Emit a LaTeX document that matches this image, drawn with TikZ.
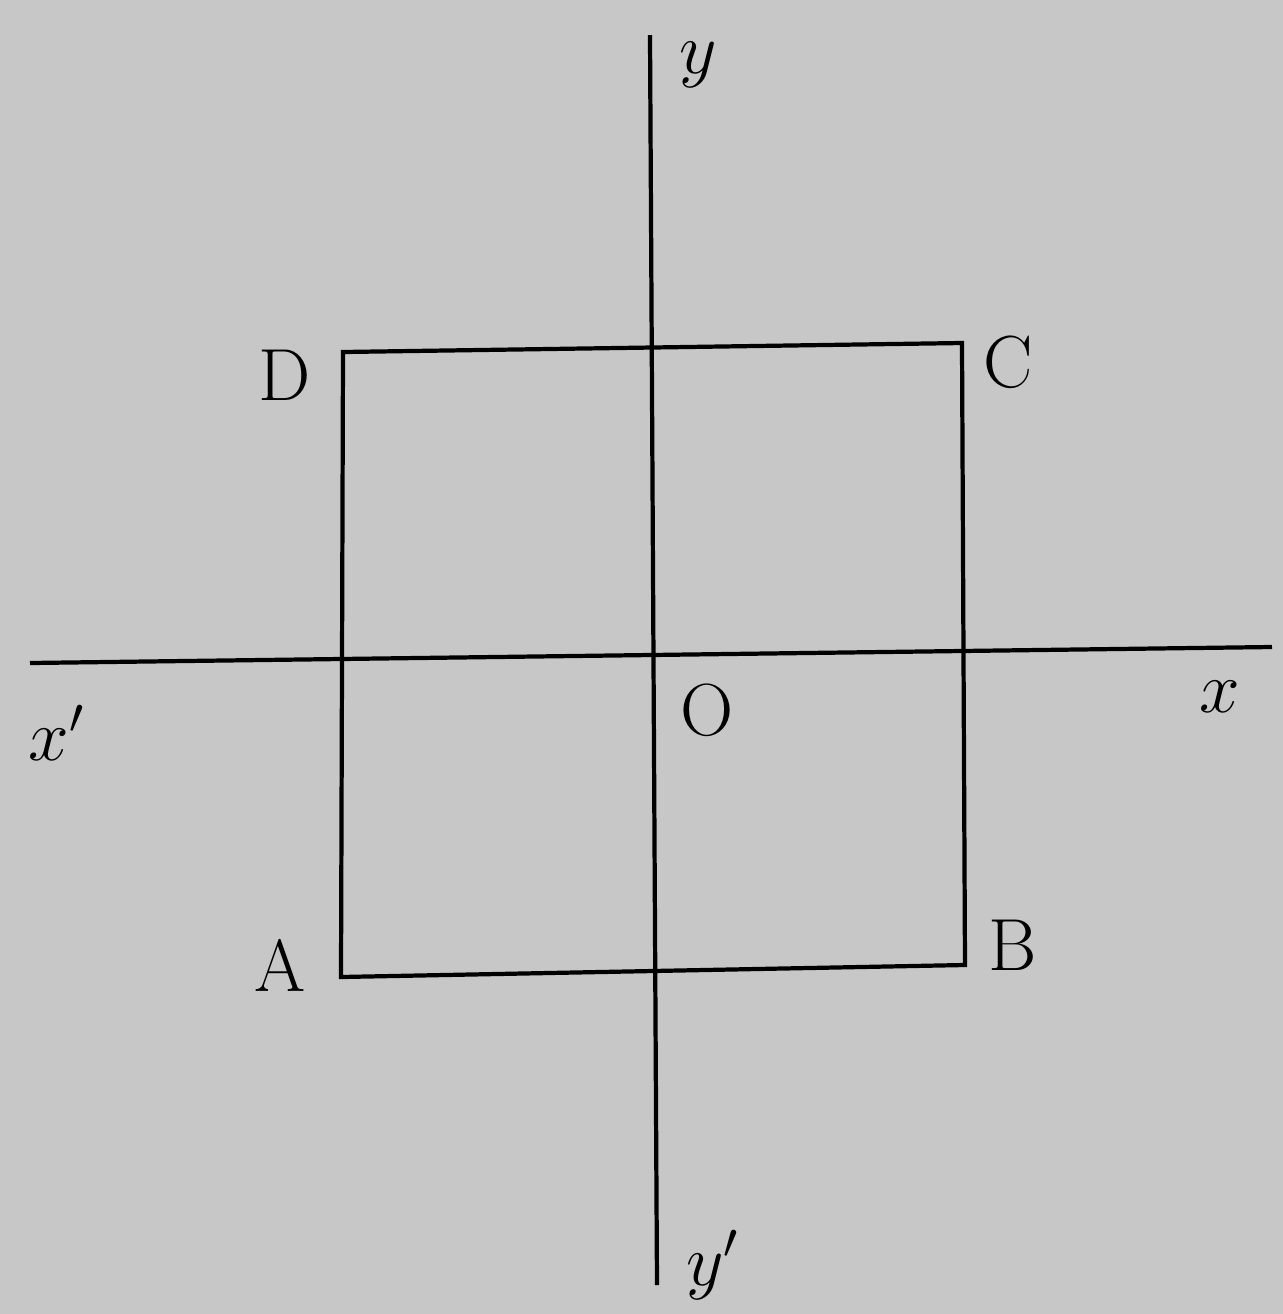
\documentclass[tikz,border=0pt]{standalone}
\begin{document}
\begin{tikzpicture}[x=0.01cm,y=-0.01cm,line width=1.2pt,
  lbl/.style={font=\fontsize{21}{25}\selectfont,inner sep=0pt}]
\fill[black!22] (0,0) rectangle (1283,1314);
\useasboundingbox (0,0) rectangle (1283,1314);
% axes
\coordinate (xl) at (30,663); \coordinate (xr) at (1272,647);
\coordinate (yt) at (650,35); \coordinate (yb) at (657,1285);
\draw (xl) -- (xr);
\draw (yt) -- (yb);
% square
\coordinate (A) at (341,977); \coordinate (B) at (965,965);
\coordinate (C) at (962,343); \coordinate (D) at (343,352);
\draw (A) -- (B) -- (C) -- (D) -- cycle;
% labels
\node[lbl] (la) at (280,965) {A};
\node[lbl] (lb) at (1013,945) {B};
\node[lbl] (lc) at (1008,362) {C};
\node[lbl] (ld) at (285,375) {D};
\node[lbl] (lo) at (707,710) {O};
\node[lbl] (lx) at (1220,697) {$x$};
\node[lbl] (lx1) at (57,733) {$x'$};
\node[lbl] (ly) at (698,65) {$y$};
\node[lbl] (ly1) at (713,1265) {$y'$};
\end{tikzpicture}
\end{document}
